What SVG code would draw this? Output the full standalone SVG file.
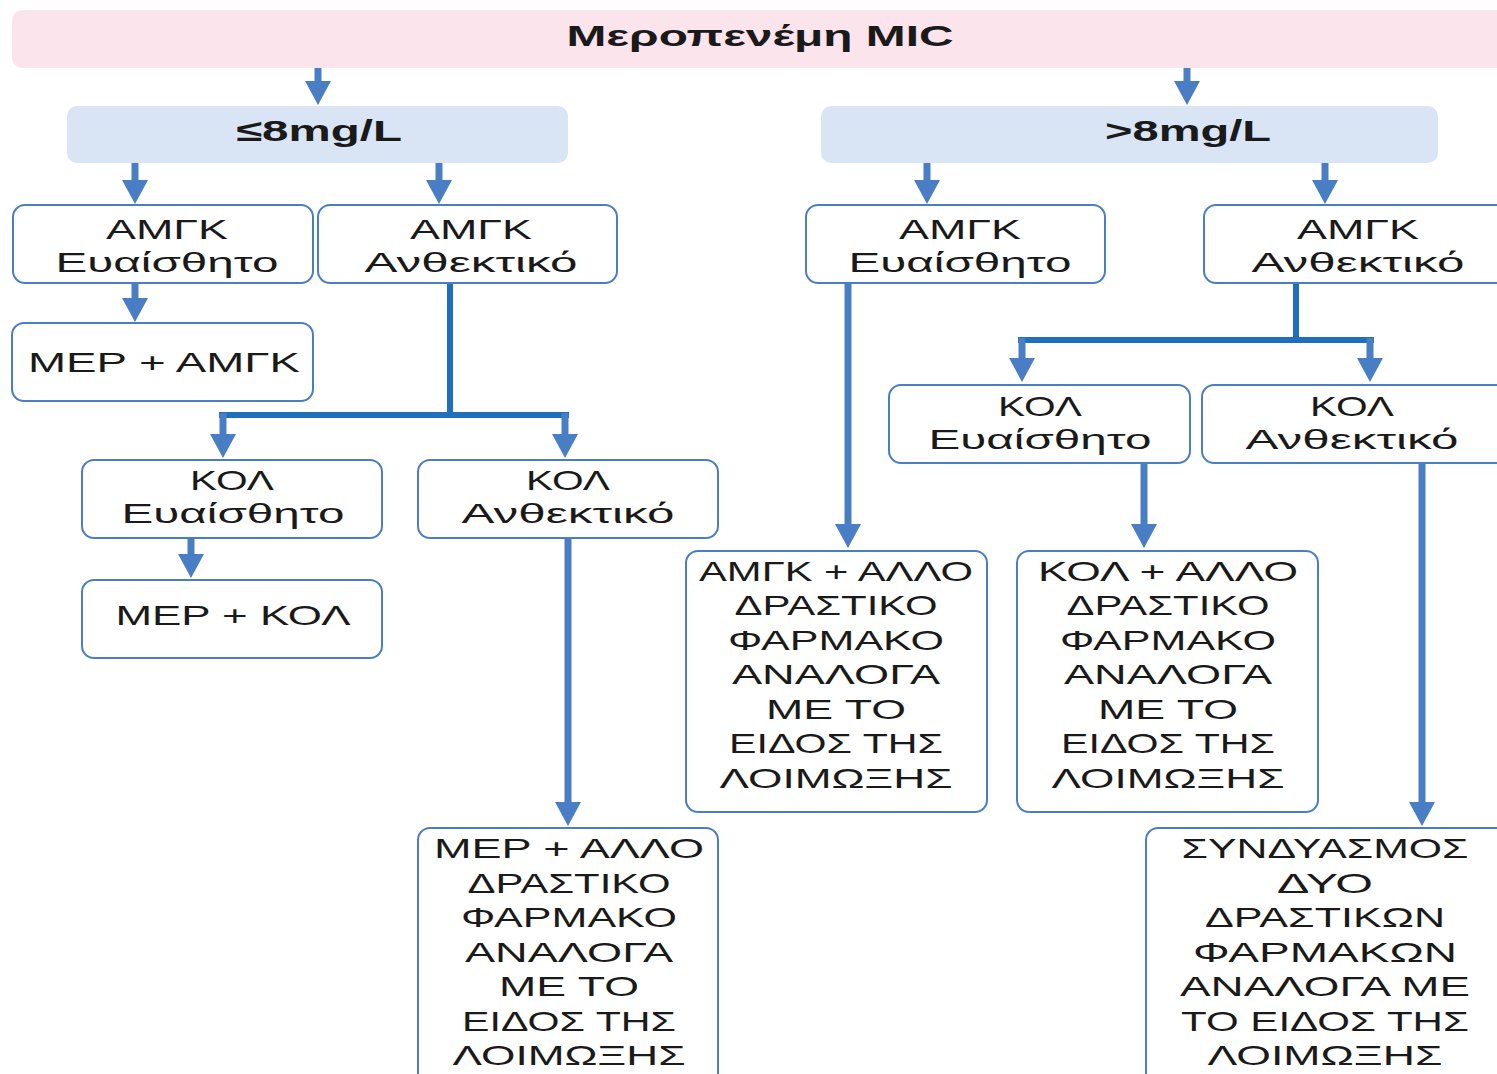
<svg xmlns="http://www.w3.org/2000/svg" width="1497" height="1074" viewBox="0 0 1497 1074">
<style>
.t{font-family:"Liberation Sans","Open Sans","DejaVu Sans",sans-serif;font-size:28px;fill:#1a1a1a;text-anchor:middle}
.b{font-family:"Liberation Sans","Open Sans","DejaVu Sans",sans-serif;font-size:30px;font-weight:bold;fill:#1a1a1a;text-anchor:middle}
.box{fill:#ffffff;stroke:#4a7ec4;stroke-width:2}
.pink{fill:#fce4ed}
.blue{fill:#d9e4f5}
.ar{fill:none;stroke:#4a7ec4;stroke-width:7;marker-end:url(#ah)}
.dk{fill:none;stroke:#1f6fbd;stroke-width:6}
</style>
<defs>
<marker id="ah" markerUnits="userSpaceOnUse" viewBox="0 0 24 26" markerWidth="24" markerHeight="26" refX="1" refY="13" orient="auto">
<path d="M0,0 L24,13 L0,26 Z" fill="#4a7ec4"/>
</marker>
</defs>
<rect width="1497" height="1074" fill="#ffffff"/>

<g id="connectors">
<path class="ar" d="M318,64 V82"/>
<path class="ar" d="M1187,64 V82"/>
<path class="ar" d="M135,163 V181"/>
<path class="ar" d="M439,163 V181"/>
<path class="ar" d="M927,163 V181"/>
<path class="ar" d="M1325,163 V181"/>
<path class="ar" d="M135,283 V299"/>
<path class="dk" d="M450,283 V415 M219,415 H569" />
<path class="ar" d="M223,413 V435"/>
<path class="ar" d="M565,413 V435"/>
<path class="ar" d="M191,538 V555"/>
<path class="ar" d="M568,538 V803"/>
<path class="ar" d="M848,283 V525"/>
<path class="dk" d="M1296,283 V340 M1018,340 H1374"/>
<path class="ar" d="M1022,338 V359"/>
<path class="ar" d="M1370,338 V359"/>
<path class="ar" d="M1144,463 V525"/>
<path class="ar" d="M1422,463 V803"/>
</g>

<g id="title">
<rect class="pink" x="12" y="10" width="1500" height="58" rx="10"/>
<text class="b" x="760" y="46" textLength="387" lengthAdjust="spacingAndGlyphs">Μεροπενέμη MIC</text>
</g>

<g id="low">
<rect class="blue" x="67" y="106" width="501" height="57" rx="10"/>
<text class="b" x="319" y="141" textLength="166" lengthAdjust="spacingAndGlyphs">≤8mg/L</text>
</g>

<g id="high">
<rect class="blue" x="821" y="106" width="617" height="57" rx="10"/>
<text class="b" x="1188" y="141" textLength="166" lengthAdjust="spacingAndGlyphs">&gt;8mg/L</text>
</g>

<g id="amgk-s-low">
<rect class="box" x="13" y="205" width="300" height="78" rx="12"/>
<text class="t" x="167" y="239" textLength="122" lengthAdjust="spacingAndGlyphs">ΑΜΓΚ</text>
<text class="t" x="167" y="272" textLength="223" lengthAdjust="spacingAndGlyphs">Ευαίσθητο</text>
</g>

<g id="amgk-r-low">
<rect class="box" x="318" y="205" width="299" height="78" rx="12"/>
<text class="t" x="471" y="239" textLength="122" lengthAdjust="spacingAndGlyphs">ΑΜΓΚ</text>
<text class="t" x="471" y="272" textLength="213" lengthAdjust="spacingAndGlyphs">Ανθεκτικό</text>
</g>

<g id="amgk-s-high">
<rect class="box" x="806" y="205" width="299" height="78" rx="12"/>
<text class="t" x="960" y="239" textLength="122" lengthAdjust="spacingAndGlyphs">ΑΜΓΚ</text>
<text class="t" x="960" y="272" textLength="223" lengthAdjust="spacingAndGlyphs">Ευαίσθητο</text>
</g>

<g id="amgk-r-high">
<rect class="box" x="1204" y="205" width="310" height="78" rx="12"/>
<text class="t" x="1358" y="239" textLength="122" lengthAdjust="spacingAndGlyphs">ΑΜΓΚ</text>
<text class="t" x="1358" y="272" textLength="213" lengthAdjust="spacingAndGlyphs">Ανθεκτικό</text>
</g>

<g id="mep-amgk">
<rect class="box" x="12" y="323" width="301" height="78" rx="12"/>
<text class="t" x="164" y="372" textLength="272" lengthAdjust="spacingAndGlyphs">ΜΕΡ + ΑΜΓΚ</text>
</g>

<g id="kol-s-low">
<rect class="box" x="82" y="460" width="300" height="78" rx="12"/>
<text class="t" x="232" y="490" textLength="84" lengthAdjust="spacingAndGlyphs">ΚΟΛ</text>
<text class="t" x="233" y="523" textLength="223" lengthAdjust="spacingAndGlyphs">Ευαίσθητο</text>
</g>

<g id="kol-r-low">
<rect class="box" x="418" y="460" width="300" height="78" rx="12"/>
<text class="t" x="568" y="490" textLength="84" lengthAdjust="spacingAndGlyphs">ΚΟΛ</text>
<text class="t" x="568" y="523" textLength="213" lengthAdjust="spacingAndGlyphs">Ανθεκτικό</text>
</g>

<g id="mep-kol">
<rect class="box" x="82" y="580" width="300" height="78" rx="12"/>
<text class="t" x="233" y="625" textLength="235" lengthAdjust="spacingAndGlyphs">ΜΕΡ + ΚΟΛ</text>
</g>

<g id="kol-s-high">
<rect class="box" x="889" y="385" width="301" height="78" rx="12"/>
<text class="t" x="1040" y="416" textLength="84" lengthAdjust="spacingAndGlyphs">ΚΟΛ</text>
<text class="t" x="1040" y="449" textLength="223" lengthAdjust="spacingAndGlyphs">Ευαίσθητο</text>
</g>

<g id="kol-r-high">
<rect class="box" x="1202" y="385" width="310" height="78" rx="12"/>
<text class="t" x="1352" y="416" textLength="84" lengthAdjust="spacingAndGlyphs">ΚΟΛ</text>
<text class="t" x="1352" y="449" textLength="213" lengthAdjust="spacingAndGlyphs">Ανθεκτικό</text>
</g>

<g id="mep-allo">
<rect class="box" x="418" y="828" width="300" height="260" rx="12"/>
<text class="t" x="569" y="858" textLength="270" lengthAdjust="spacingAndGlyphs">ΜΕΡ + ΑΛΛΟ</text>
<text class="t" x="569" y="893" textLength="203" lengthAdjust="spacingAndGlyphs">ΔΡΑΣΤΙΚΟ</text>
<text class="t" x="569" y="927" textLength="216" lengthAdjust="spacingAndGlyphs">ΦΑΡΜΑΚΟ</text>
<text class="t" x="569" y="962" textLength="208" lengthAdjust="spacingAndGlyphs">ΑΝΑΛΟΓΑ</text>
<text class="t" x="569" y="996" textLength="140" lengthAdjust="spacingAndGlyphs">ΜΕ ΤΟ</text>
<text class="t" x="569" y="1031" textLength="214" lengthAdjust="spacingAndGlyphs">ΕΙΔΟΣ ΤΗΣ</text>
<text class="t" x="569" y="1065" textLength="233" lengthAdjust="spacingAndGlyphs">ΛΟΙΜΩΞΗΣ</text>
</g>

<g id="amgk-allo">
<rect class="box" x="686" y="551" width="301" height="261" rx="12"/>
<text class="t" x="836" y="581" textLength="274" lengthAdjust="spacingAndGlyphs">ΑΜΓΚ + ΑΛΛΟ</text>
<text class="t" x="836" y="615" textLength="203" lengthAdjust="spacingAndGlyphs">ΔΡΑΣΤΙΚΟ</text>
<text class="t" x="836" y="650" textLength="216" lengthAdjust="spacingAndGlyphs">ΦΑΡΜΑΚΟ</text>
<text class="t" x="836" y="684" textLength="208" lengthAdjust="spacingAndGlyphs">ΑΝΑΛΟΓΑ</text>
<text class="t" x="836" y="719" textLength="140" lengthAdjust="spacingAndGlyphs">ΜΕ ΤΟ</text>
<text class="t" x="836" y="753" textLength="214" lengthAdjust="spacingAndGlyphs">ΕΙΔΟΣ ΤΗΣ</text>
<text class="t" x="836" y="788" textLength="233" lengthAdjust="spacingAndGlyphs">ΛΟΙΜΩΞΗΣ</text>
</g>

<g id="kol-allo">
<rect class="box" x="1017" y="551" width="301" height="261" rx="12"/>
<text class="t" x="1168" y="581" textLength="260" lengthAdjust="spacingAndGlyphs">ΚΟΛ + ΑΛΛΟ</text>
<text class="t" x="1168" y="615" textLength="203" lengthAdjust="spacingAndGlyphs">ΔΡΑΣΤΙΚΟ</text>
<text class="t" x="1168" y="650" textLength="216" lengthAdjust="spacingAndGlyphs">ΦΑΡΜΑΚΟ</text>
<text class="t" x="1168" y="684" textLength="208" lengthAdjust="spacingAndGlyphs">ΑΝΑΛΟΓΑ</text>
<text class="t" x="1168" y="719" textLength="140" lengthAdjust="spacingAndGlyphs">ΜΕ ΤΟ</text>
<text class="t" x="1168" y="753" textLength="214" lengthAdjust="spacingAndGlyphs">ΕΙΔΟΣ ΤΗΣ</text>
<text class="t" x="1168" y="788" textLength="233" lengthAdjust="spacingAndGlyphs">ΛΟΙΜΩΞΗΣ</text>
</g>

<g id="combo">
<rect class="box" x="1146" y="828" width="370" height="260" rx="12"/>
<text class="t" x="1325" y="858" textLength="287" lengthAdjust="spacingAndGlyphs">ΣΥΝΔΥΑΣΜΟΣ</text>
<text class="t" x="1325" y="893" textLength="96" lengthAdjust="spacingAndGlyphs">ΔΥΟ</text>
<text class="t" x="1325" y="927" textLength="240" lengthAdjust="spacingAndGlyphs">ΔΡΑΣΤΙΚΩΝ</text>
<text class="t" x="1325" y="962" textLength="264" lengthAdjust="spacingAndGlyphs">ΦΑΡΜΑΚΩΝ</text>
<text class="t" x="1325" y="996" textLength="290" lengthAdjust="spacingAndGlyphs">ΑΝΑΛΟΓΑ ΜΕ</text>
<text class="t" x="1325" y="1031" textLength="288" lengthAdjust="spacingAndGlyphs">ΤΟ ΕΙΔΟΣ ΤΗΣ</text>
<text class="t" x="1325" y="1065" textLength="235" lengthAdjust="spacingAndGlyphs">ΛΟΙΜΩΞΗΣ</text>
</g>
</svg>
